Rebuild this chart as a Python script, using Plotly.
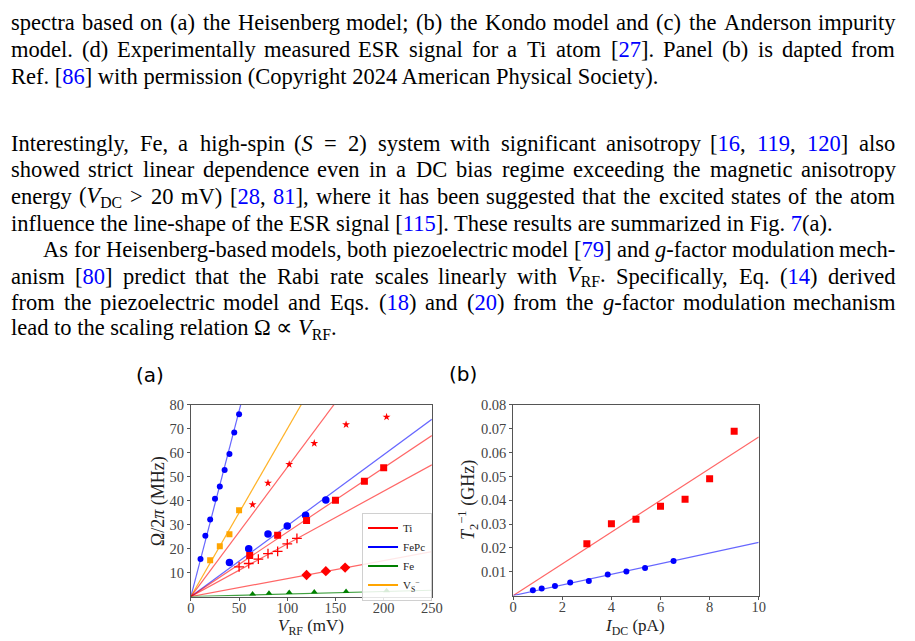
import re
import plotly.graph_objects as go

W, H = 915, 641

# ---------------- data: panel (a) ----------------
fepc1_x = [10, 15, 20, 25, 30, 35, 40, 45, 50]
fepc1_y = [15.7, 25.4, 32.2, 40.8, 46.0, 52.9, 59.5, 68.5, 76.1]
fepc1_slope = 1.55

vs_x = [20, 30, 40, 50]
vs_y = [15.2, 21.0, 26.0, 36.0]
vs_slope = 0.70

ti_star_x = [64, 80, 102, 128, 161, 203]
ti_star_y = [38.4, 47.4, 55.2, 64.0, 71.8, 75.0]
ti_star_slope = 0.54

fepc2_x = [40, 60, 80, 100, 119, 140]
fepc2_y = [14.2, 20.0, 26.1, 29.5, 34.0, 40.3]
fepc2_slope = 0.296

ti_sq_x = [61, 90, 120, 150, 180, 200]
ti_sq_y = [17.1, 25.6, 31.8, 40.2, 48.2, 53.8]
ti_sq_slope = 0.269

ti_plus_x = [50, 60, 70, 80, 90, 100, 110]
ti_plus_y = [12.4, 13.8, 15.6, 17.9, 18.9, 22.0, 24.3]
ti_plus_slope = 0.22

ti_dia_x = [120, 140, 160]
ti_dia_y = [9.0, 10.6, 12.1]
ti_dia_slope = 0.075

fe_x = [64, 81, 102, 128, 161, 203]
fe_y = [1.1, 1.4, 1.7, 1.9, 2.1, 2.4]
fe_slope = 0.0105

a_xmax = 250
a_xticks = [0, 50, 100, 150, 200, 250]
a_yticks = [10, 20, 30, 40, 50, 60, 70, 80]
legend_names = ["Ti", "FePc", "Fe", "V<sub>S</sub><sup>−</sup>"]

# ---------------- data: panel (b) ----------------
b_red_x = [3, 4, 5, 6, 7, 8, 9]
b_red_y = [0.0217, 0.0301, 0.0320, 0.0375, 0.0404, 0.0490, 0.0690]
b_red_slope = 0.00666

b_blue_x = [0.80, 1.16, 1.70, 2.32, 3.08, 3.85, 4.61, 5.37, 6.53]
b_blue_y = [0.0022, 0.0030, 0.0040, 0.0055, 0.0061, 0.0088, 0.0101, 0.0116, 0.0145]
b_blue_slope = 0.00223

b_xmax = 10
b_xticks = [0, 2, 4, 6, 8, 10]
b_yticks = [0.01, 0.02, 0.03, 0.04, 0.05, 0.06, 0.07, 0.08]

# ---------------- page text ----------------
# {..} marks a blue cross-reference; (text, justified, indent px)
text_lines = [
    ("spectra based on (a) the Heisenberg model; (b) the Kondo model and (c) the Anderson impurity", True, 7),
    ("model. (d) Experimentally measured ESR signal for a Ti atom [{27}]. Panel (b) is dapted from", True, 7),
    ("Ref. [{86}] with permission (Copyright 2024 American Physical Society).", False, 7),
    ("Interestingly, Fe, a high-spin (<i>S</i> = 2) system with significant anisotropy [{16}, {119}, {120}] also", True, 7),
    ("showed strict linear dependence even in a DC bias regime exceeding the magnetic anisotropy", True, 7),
    ("energy (<i>V</i><sub>DC</sub> &gt; 20 mV) [{28}, {81}], where it has been suggested that the excited states of the atom", True, 7),
    ("influence the line-shape of the ESR signal [{115}]. These results are summarized in Fig. {7}(a).", False, 7),
    ("As for Heisenberg-based models, both piezoelectric model [{79}] and <i>g</i>-factor modulation mech-", True, 40),
    ("anism [{80}] predict that the Rabi rate scales linearly with <i>V</i><sub>RF</sub>. Specifically, Eq. ({14}) derived", True, 7),
    ("from the piezoelectric model and Eqs. ({18}) and ({20}) from the <i>g</i>-factor modulation mechanism", True, 7),
    ("lead to the scaling relation Ω ∝ <i>V</i><sub>RF</sub>.", False, 7),
]
text_centers = [15, 42, 69.5, 137, 164, 191, 218, 244.5, 271.5, 298.5, 325.5]

SERIF = "Liberation Serif"
FS = 22.5
TXT_FONT = dict(family=SERIF, size=FS, color="black")
RIGHT_EDGE = 905

# Times-compatible advance widths (1/1000 em) used to justify the lines
_w = {" ": 250, "(": 333, ")": 333, "[": 333, "]": 333, ",": 250, ".": 250, ";": 278,
      ":": 278, "-": 333, "=": 564, ">": 564, "Ω": 768, "∝": 713, "π": 549, "−": 564}
for ch in "0123456789":
    _w[ch] = 500
_w.update(dict(zip("ABCDEFGHIJKLMNOPQRSTUVWXYZ",
                   [722, 667, 667, 722, 611, 556, 722, 722, 333, 389, 722, 611, 889,
                    722, 722, 556, 722, 667, 556, 611, 722, 722, 944, 722, 722, 611])))
_w.update(dict(zip("abcdefghijklmnopqrstuvwxyz",
                   [444, 500, 444, 500, 444, 333, 500, 500, 278, 278, 500, 278, 778,
                    500, 500, 500, 500, 333, 389, 278, 500, 500, 722, 500, 500, 444])))
_wi = {"V": 611, "S": 500, "g": 500}


def markup(s):
    return re.sub(r"\{([^}]*)\}", r'<span style="color:#0000ff">\1</span>', s)


def width(word):
    s = word.replace("&gt;", ">").replace("{", "").replace("}", "")
    total, scale, ital = 0.0, 1.0, False
    for tok in re.split(r"(<[^>]+>)", s):
        if tok.startswith("<"):
            t = tok.strip("<>/")
            if t in ("sub", "sup"):
                scale = 1.0 if tok.startswith("</") else 0.7
            if t == "i":
                ital = not tok.startswith("</")
            continue
        for ch in tok:
            w = _wi.get(ch, _w.get(ch, 500)) if ital else _w.get(ch, 500)
            total += w * scale
    return total / 1000 * FS


fig = go.Figure()

RED_L = "rgba(255,0,0,0.6)"
BLUE_L = "rgba(0,0,255,0.6)"
GREEN_L = "rgba(0,128,0,0.75)"
ORANGE_L = "rgba(255,165,0,0.85)"


def fit_line(slope, xmax, color, xa, ya):
    fig.add_trace(go.Scatter(x=[0, xmax], y=[0, slope * xmax], mode="lines",
                             line=dict(color=color, width=1.2), showlegend=False,
                             hoverinfo="skip", xaxis=xa, yaxis=ya))


def pts(x, y, symbol, color, size, xa, ya, lw=0):
    fig.add_trace(go.Scatter(x=x, y=y, mode="markers", showlegend=False,
                             marker=dict(symbol=symbol, color=color, size=size,
                                         line=dict(color=color, width=lw)),
                             xaxis=xa, yaxis=ya))


# panel (a) fit lines
fit_line(fepc1_slope, a_xmax, BLUE_L, "x", "y")
fit_line(vs_slope, a_xmax, ORANGE_L, "x", "y")
fit_line(ti_star_slope, a_xmax, RED_L, "x", "y")
fit_line(fepc2_slope, a_xmax, BLUE_L, "x", "y")
fit_line(ti_sq_slope, a_xmax, RED_L, "x", "y")
fit_line(ti_plus_slope, a_xmax, RED_L, "x", "y")
fit_line(ti_dia_slope, a_xmax, RED_L, "x", "y")
fit_line(fe_slope, a_xmax, GREEN_L, "x", "y")

# panel (a) markers
pts(fepc1_x, fepc1_y, "circle", "#0000ff", 6, "x", "y")
pts(vs_x, vs_y, "square", "orange", 6, "x", "y")
pts(ti_star_x, ti_star_y, "star", "#ff0000", 6, "x", "y")
pts(fepc2_x, fepc2_y, "circle", "#0000ff", 7.5, "x", "y")
pts(ti_sq_x, ti_sq_y, "square", "#ff0000", 7, "x", "y")
pts(ti_plus_x, ti_plus_y, "cross-thin", "#ff0000", 7, "x", "y", lw=1.3)
pts(ti_dia_x, ti_dia_y, "diamond", "#ff0000", 8, "x", "y")
pts(fe_x, fe_y, "triangle-up", "green", 6, "x", "y")

# legend entries
for name, col in zip(legend_names, ["#ff0000", "#0000ff", "green", "orange"]):
    fig.add_trace(go.Scatter(x=[None], y=[None], mode="lines", name=name,
                             line=dict(color=col, width=2), xaxis="x", yaxis="y"))

# panel (b)
fit_line(b_red_slope, b_xmax, RED_L, "x2", "y2")
fit_line(b_blue_slope, b_xmax, BLUE_L, "x2", "y2")
pts(b_red_x, b_red_y, "square", "#ff0000", 7, "x2", "y2")
pts(b_blue_x, b_blue_y, "circle", "#0000ff", 6, "x2", "y2")

AX = dict(showline=True, mirror=True, linecolor="#555", linewidth=1, ticks="outside",
          ticklen=3, tickwidth=1, tickcolor="#555", showgrid=False, zeroline=False,
          tickfont=dict(family=SERIF, size=14.5, color="#444"))

fig.update_layout(
    width=W, height=H, margin=dict(l=0, r=0, t=0, b=0),
    paper_bgcolor="white", plot_bgcolor="white",
    xaxis=dict(domain=[190 / W, 435 / W], range=[0, 250], tickvals=a_xticks, anchor="y",
               ticklabelstandoff=-5, **AX),
    yaxis=dict(domain=[1 - 596 / H, 1 - 402 / H], range=[0, 80], tickvals=a_yticks, anchor="x", **AX),
    xaxis2=dict(domain=[517.7 / W, 767.3 / W], range=[0, 10], tickvals=b_xticks, anchor="y2",
                ticklabelstandoff=-5, **AX),
    yaxis2=dict(domain=[1 - 595 / H, 1 - 402 / H], range=[0, 0.08], tickvals=b_yticks,
                tickformat=".2f", anchor="x2", **AX),
    legend=dict(x=364 / W, y=1 - 511 / H, xanchor="left", yanchor="top",
                bgcolor="rgba(255,255,255,0.85)", bordercolor="#d0d0d0", borderwidth=1,
                font=dict(family=SERIF, size=11, color="#222"), tracegroupgap=0,
                itemwidth=30),
    showlegend=True,
)

ann = []


def add_text(txt, x, yc, anchor="left"):
    ann.append(dict(text=markup(txt), x=x / W, y=1 - yc / H, xref="paper", yref="paper",
                    xanchor=anchor, yanchor="middle", showarrow=False, font=TXT_FONT,
                    borderpad=0, borderwidth=0))


for (line, justified, indent), yc in zip(text_lines, text_centers):
    if not justified:
        add_text(line, indent, yc)
        continue
    words = line.split(" ")
    ws = [width(w) for w in words]
    gap = (RIGHT_EDGE - indent - sum(ws)) / (len(words) - 1)
    x = indent
    for w, wd in zip(words, ws):
        add_text(w, x, yc)
        x += wd + gap

axis_titles = [
    ("<i>V</i><sub>RF</sub> (mV)", 312, 627, 0, 17),
    ("Ω/2<i>π</i> (MHz)", 157, 499, -90, 18),
    ("<i>I</i><sub>DC</sub> (pA)", 642, 627, 0, 17),
    ("<i>T</i><sub>2</sub><sup>−1</sup> (GHz)", 472, 498, -90, 18),
]
for txt, x, y, ang, sz in axis_titles:
    ann.append(dict(text=txt, x=x / W, y=1 - y / H, xref="paper", yref="paper",
                    xanchor="center", yanchor="middle", textangle=ang, showarrow=False,
                    borderpad=0, borderwidth=0,
                    font=dict(family=SERIF, size=sz, color="#222")))

ann.append(dict(text="(a)", x=148 / W, y=1 - 372 / H, xref="paper", yref="paper",
                xanchor="center", yanchor="middle",
                showarrow=False, font=dict(family="DejaVu Sans", size=20, color="black")))
ann.append(dict(text="(b)", x=467 / W, y=1 - 371 / H, xref="paper", yref="paper",
                xanchor="center", yanchor="middle",
                showarrow=False, font=dict(family="DejaVu Sans", size=20, color="black")))
fig.update_layout(annotations=ann)

fig.write_html("out.html")
